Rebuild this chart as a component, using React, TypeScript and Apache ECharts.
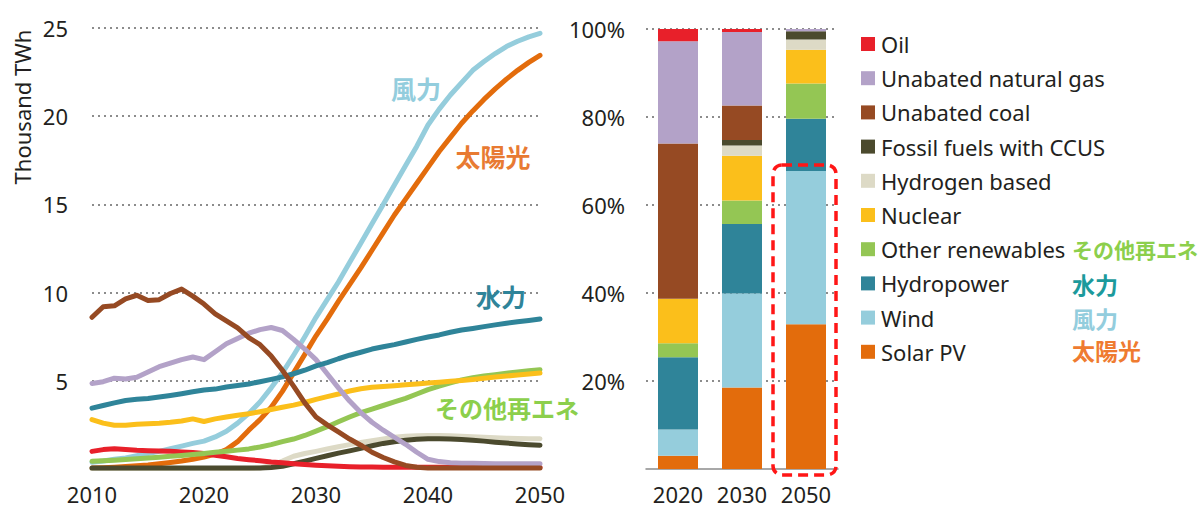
import React, { useEffect, useRef } from "react";
import * as echarts from "echarts";

// ---- data ----
const years = [
  2010, 2011, 2012, 2013, 2014, 2015, 2016, 2017, 2018, 2019,
  2020, 2021, 2022, 2023, 2024, 2025, 2026, 2027, 2028, 2029,
  2030, 2031, 2032, 2033, 2034, 2035, 2036, 2037, 2038, 2039,
  2040, 2041, 2042, 2043, 2044, 2045, 2046, 2047, 2048, 2049, 2050,
];
const oilLine = [1.0, 1.1, 1.15, 1.1, 1.06, 1.04, 1.02, 1.0, 0.97, 0.93, 0.88, 0.78, 0.69, 0.6, 0.53, 0.47, 0.4, 0.35, 0.3, 0.25, 0.21, 0.18, 0.15, 0.13, 0.12, 0.11, 0.1, 0.1, 0.1, 0.1, 0.1, 0.1, 0.1, 0.1, 0.1, 0.1, 0.1, 0.1, 0.1, 0.1, 0.1];
const gasLine = [4.85, 4.95, 5.15, 5.1, 5.2, 5.5, 5.8, 6.0, 6.2, 6.35, 6.2, 6.65, 7.1, 7.4, 7.7, 7.9, 8.02, 7.85, 7.35, 6.8, 6.2, 5.4, 4.6, 3.85, 3.2, 2.65, 2.2, 1.8, 1.4, 0.95, 0.55, 0.42, 0.36, 0.33, 0.32, 0.31, 0.3, 0.3, 0.3, 0.3, 0.3];
const coalLine = [8.6, 9.2, 9.25, 9.65, 9.85, 9.55, 9.6, 9.95, 10.2, 9.8, 9.35, 8.8, 8.4, 8.0, 7.45, 7.05, 6.4, 5.6, 4.7, 3.75, 2.95, 2.5, 2.1, 1.7, 1.35, 0.95, 0.65, 0.4, 0.2, 0.1, 0.05, 0.05, 0.05, 0.05, 0.05, 0.05, 0.05, 0.05, 0.05, 0.05, 0.05];
const ccusLine = [0.05, 0.05, 0.05, 0.05, 0.05, 0.05, 0.05, 0.05, 0.05, 0.05, 0.05, 0.05, 0.05, 0.05, 0.05, 0.05, 0.08, 0.15, 0.3, 0.45, 0.6, 0.75, 0.9, 1.03, 1.17, 1.32, 1.45, 1.55, 1.63, 1.68, 1.71, 1.71, 1.7, 1.67, 1.63, 1.58, 1.52, 1.47, 1.42, 1.38, 1.35];
const hydrogenLine = [0.03, 0.03, 0.03, 0.03, 0.03, 0.03, 0.03, 0.03, 0.03, 0.03, 0.03, 0.03, 0.03, 0.03, 0.03, 0.05, 0.2, 0.45, 0.72, 0.88, 1.0, 1.13, 1.26, 1.38, 1.5, 1.6, 1.7, 1.8, 1.85, 1.88, 1.9, 1.9, 1.88, 1.86, 1.83, 1.8, 1.77, 1.75, 1.73, 1.72, 1.71];
const nuclearLine = [2.8, 2.6, 2.48, 2.48, 2.54, 2.57, 2.6, 2.65, 2.72, 2.84, 2.69, 2.84, 2.95, 3.05, 3.13, 3.25, 3.37, 3.5, 3.62, 3.77, 3.95, 4.1, 4.25, 4.42, 4.55, 4.63, 4.68, 4.72, 4.77, 4.82, 4.87, 4.92, 4.97, 5.02, 5.08, 5.15, 5.21, 5.27, 5.33, 5.39, 5.44];
const otherLine = [0.44, 0.47, 0.5, 0.54, 0.58, 0.62, 0.67, 0.72, 0.77, 0.82, 0.88, 0.95, 1.01, 1.07, 1.14, 1.25, 1.38, 1.55, 1.7, 1.9, 2.15, 2.4, 2.68, 2.95, 3.2, 3.4, 3.6, 3.8, 4.0, 4.25, 4.5, 4.7, 4.88, 5.05, 5.17, 5.27, 5.35, 5.43, 5.5, 5.57, 5.63];
const hydroLine = [3.45, 3.6, 3.75, 3.88, 3.95, 4.0, 4.08, 4.17, 4.27, 4.38, 4.48, 4.53, 4.65, 4.73, 4.82, 4.95, 5.08, 5.22, 5.4, 5.6, 5.85, 6.03, 6.25, 6.45, 6.62, 6.8, 6.93, 7.05, 7.2, 7.35, 7.48, 7.6, 7.75, 7.88, 7.97, 8.07, 8.17, 8.26, 8.35, 8.42, 8.5];
const windLine = [0.38, 0.45, 0.55, 0.63, 0.75, 0.88, 1.0, 1.15, 1.3, 1.45, 1.58, 1.82, 2.14, 2.6, 3.15, 3.8, 4.6, 5.45, 6.45, 7.5, 8.6, 9.6, 10.6, 11.7, 12.8, 13.9, 15.0, 16.1, 17.2, 18.3, 19.5, 20.4, 21.2, 21.9, 22.6, 23.1, 23.55, 23.95, 24.25, 24.5, 24.7];
const solarLine = [0.05, 0.07, 0.1, 0.14, 0.18, 0.23, 0.3, 0.37, 0.45, 0.55, 0.68, 0.85, 1.1, 1.55, 2.2, 2.8, 3.5, 4.4, 5.45, 6.5, 7.55, 8.5, 9.5, 10.45, 11.4, 12.4, 13.4, 14.4, 15.3, 16.2, 17.1, 18.0, 18.8, 19.6, 20.3, 20.95, 21.55, 22.1, 22.6, 23.05, 23.45];

const barYears = ["2020", "2030", "2050"];
const solarShare = [3.0, 18.5, 32.9];
const windShare = [6.0, 21.4, 34.8];
const hydroShare = [16.4, 15.8, 11.9];
const otherShare = [3.2, 5.3, 8.0];
const nuclearShare = [10.1, 10.2, 7.7];
const hydrogenShare = [0, 2.3, 2.3];
const ccusShare = [0, 1.3, 1.9];
const coalShare = [35.3, 7.8, 0];
const gasShare = [23.2, 16.7, 0.5];
const oilShare = [2.8, 0.7, 0];

const yTicksLeft = [0, 5, 10, 15, 20, 25];
const yTicksRight = [0, 20, 40, 60, 80, 100];

const seriesNames = [
  "Oil",
  "Unabated natural gas",
  "Unabated coal",
  "Fossil fuels with CCUS",
  "Hydrogen based",
  "Nuclear",
  "Other renewables",
  "Hydropower",
  "Wind",
  "Solar PV",
];

const TEXT = "#231f20";
const GRID = "#8c8c8c";
const FONT = "Noto Sans";
const JP = "Noto Sans CJK JP";

export default function App() {
  const ref = useRef<HTMLDivElement>(null);

  useEffect(() => {
    if (!ref.current) return;
    const chart = echarts.init(ref.current, undefined, { renderer: "svg" });

    const defs = [
      { name: "Oil", color: "#e8202a", line: oilLine, share: oilShare },
      { name: "Unabated natural gas", color: "#b3a2c8", line: gasLine, share: gasShare },
      { name: "Unabated coal", color: "#964a23", line: coalLine, share: coalShare },
      { name: "Fossil fuels with CCUS", color: "#4b4a2e", line: ccusLine, share: ccusShare },
      { name: "Hydrogen based", color: "#dddac6", line: hydrogenLine, share: hydrogenShare },
      { name: "Nuclear", color: "#fbbf1b", line: nuclearLine, share: nuclearShare },
      { name: "Other renewables", color: "#94c654", line: otherLine, share: otherShare },
      { name: "Hydropower", color: "#2f8499", line: hydroLine, share: hydroShare },
      { name: "Wind", color: "#95cddc", line: windLine, share: windShare },
      { name: "Solar PV", color: "#e36c0c", line: solarLine, share: solarShare },
    ];
    const byName: Record<string, any> = {};
    defs.forEach((d) => (byName[d.name] = d));

    const lineOrder = [
      "Solar PV",
      "Wind",
      "Hydrogen based",
      "Fossil fuels with CCUS",
      "Oil",
      "Other renewables",
      "Nuclear",
      "Unabated natural gas",
      "Hydropower",
      "Unabated coal",
    ];
    const lineSeries = lineOrder.map((n) => {
      const d = byName[n];
      return {
        name: n,
        type: "line",
        xAxisIndex: 0,
        yAxisIndex: 0,
        showSymbol: false,
        symbol: "none",
        clip: false,
        data: years.map((y, i) => [y, d.line[i]]),
        lineStyle: { color: d.color, width: 5, join: "round", cap: "round" },
        itemStyle: { color: d.color },
      };
    });

    const barOrder = [
      "Solar PV",
      "Wind",
      "Hydropower",
      "Other renewables",
      "Nuclear",
      "Hydrogen based",
      "Fossil fuels with CCUS",
      "Unabated coal",
      "Unabated natural gas",
      "Oil",
    ];
    const barSeries = barOrder.map((n) => {
      const d = byName[n];
      return {
        name: n,
        type: "bar",
        stack: "share",
        xAxisIndex: 1,
        yAxisIndex: 1,
        barWidth: 40,
        data: d.share,
        itemStyle: { color: d.color },
      };
    });

    const jpLabel = (text: string, x: number, y: number, color: string, size: number, align: string) => ({
      type: "text",
      x,
      y,
      z: 50,
      style: {
        text,
        fill: color,
        fontSize: size,
        fontWeight: "bold",
        fontFamily: JP,
        align,
        verticalAlign: "middle",
      },
    });

    const option: any = {
      animation: false,
      textStyle: { fontFamily: FONT },
      grid: [
        { left: 92, top: 28, width: 448, height: 441.5 },
        { left: 646, top: 29, width: 192, height: 441 },
      ],
      xAxis: [
        {
          gridIndex: 0,
          type: "value",
          min: years[0],
          max: years[years.length - 1],
          interval: 10,
          axisLine: { show: false },
          axisTick: { show: false },
          splitLine: { show: false },
          axisLabel: {
            formatter: (v: number) => String(v),
            fontSize: 22,
            lineHeight: 18,
            color: TEXT,
            fontFamily: FONT,
            margin: 16,
          },
        },
        {
          gridIndex: 1,
          type: "category",
          data: barYears,
          axisLine: { show: true, lineStyle: { color: GRID, width: 1.5 } },
          axisTick: { show: false },
          axisLabel: {
            interval: 0,
            fontSize: 22,
            lineHeight: 18,
            color: TEXT,
            fontFamily: FONT,
            margin: 16,
          },
        },
      ],
      yAxis: [
        {
          gridIndex: 0,
          type: "value",
          min: yTicksLeft[0],
          max: yTicksLeft[yTicksLeft.length - 1],
          interval: 5,
          axisLine: { show: false },
          axisTick: { show: false },
          axisLabel: {
            formatter: (v: number) => (v === 0 ? "" : String(v)),
            fontSize: 22,
            color: TEXT,
            fontFamily: FONT,
            margin: 24,
          },
          splitLine: {
            show: true,
            lineStyle: {
              color: ["rgba(0,0,0,0)", GRID, GRID, GRID, GRID, GRID],
              type: [2, 4],
              width: 2,
            },
          },
        },
        {
          gridIndex: 1,
          type: "value",
          min: yTicksRight[0],
          max: yTicksRight[yTicksRight.length - 1],
          interval: 20,
          axisLine: { show: false },
          axisTick: { show: false },
          axisLabel: {
            formatter: (v: number) => (v === 0 ? "" : v + "%"),
            fontSize: 22,
            color: TEXT,
            fontFamily: FONT,
            margin: 21,
          },
          splitLine: {
            show: true,
            lineStyle: {
              color: ["rgba(0,0,0,0)", GRID, GRID, GRID, GRID, GRID],
              type: [2, 4],
              width: 2,
            },
          },
        },
      ],
      legend: {
        orient: "vertical",
        left: 856,
        top: 28,
        itemWidth: 14,
        itemHeight: 14,
        itemGap: 12.2,
        icon: "rect",
        selectedMode: false,
        data: seriesNames,
        textStyle: {
          fontSize: 22,
          lineHeight: 22,
          color: TEXT,
          fontFamily: FONT,
          padding: [0, 0, 0, 1],
        },
      },
      series: [...lineSeries, ...barSeries],
      graphic: [
        {
          type: "text",
          x: 22,
          y: 107,
          rotation: Math.PI / 2,
          style: {
            text: "Thousand TWh",
            fill: TEXT,
            fontSize: 22,
            fontFamily: FONT,
            align: "center",
            verticalAlign: "middle",
          },
        },
        jpLabel("風力", 416, 88, "#93cddd", 25, "center"),
        jpLabel("太陽光", 493, 156, "#e87a32", 25, "center"),
        jpLabel("水力", 501, 296, "#2f8499", 25, "center"),
        jpLabel("その他再エネ", 507, 407, "#8ccf4c", 24, "center"),
        jpLabel("その他再エネ", 1072, 249, "#8ccf4c", 21, "left"),
        jpLabel("水力", 1072, 284, "#1c9a9c", 23, "left"),
        jpLabel("風力", 1072, 318, "#93cddd", 23, "left"),
        jpLabel("太陽光", 1072, 350, "#ef7b30", 23, "left"),
        {
          type: "rect",
          z: 60,
          shape: { x: 773, y: 165, width: 63, height: 310, r: 9 },
          style: { fill: "none", stroke: "#ff1616", lineWidth: 3.5, lineDash: [10, 6] },
        },
      ],
    };

    chart.setOption(option);
    return () => chart.dispose();
  }, []);

  return (
    <div
      ref={ref}
      style={{ position: "absolute", left: 0, top: 0, width: 1203, height: 505, background: "#ffffff" }}
    />
  );
}
